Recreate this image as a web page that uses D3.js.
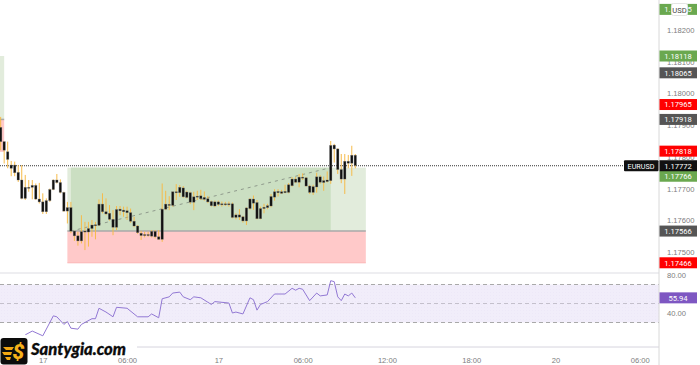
<!DOCTYPE html>
<html>
<head>
<meta charset="utf-8">
<script src="https://cdn.jsdelivr.net/npm/d3@7"></script>
<style>
  html, body { margin: 0; padding: 0; background: #fff; }
  svg { display: block; font-family: Roboto, sans-serif; }
</style>
</head>
<body>
<div id="chart"></div>
<script>
// Candle bodies and wicks (15 min bars)
const bodyTop = [1.17893,1.17848,1.17816,1.17774,1.17774,1.17751,1.17727,1.17704,1.17704,1.17710,1.17710,1.17667,1.17658,1.17662,1.17697,1.17727,1.17727,1.17719,1.17688,1.17640,1.17640,1.17566,1.17551,1.17564,1.17566,1.17574,1.17585,1.17586,1.17651,1.17651,1.17627,1.17622,1.17603,1.17634,1.17635,1.17632,1.17630,1.17624,1.17597,1.17582,1.17559,1.17555,1.17555,1.17565,1.17565,1.17548,1.17635,1.17651,1.17650,1.17690,1.17690,1.17704,1.17702,1.17689,1.17687,1.17674,1.17676,1.17677,1.17672,1.17668,1.17659,1.17658,1.17658,1.17652,1.17652,1.17652,1.17652,1.17617,1.17617,1.17611,1.17639,1.17667,1.17667,1.17656,1.17637,1.17641,1.17646,1.17675,1.17690,1.17691,1.17690,1.17691,1.17712,1.17730,1.17730,1.17736,1.17736,1.17734,1.17708,1.17706,1.17737,1.17737,1.17725,1.17727,1.17836,1.17837,1.17825,1.17760,1.17786,1.17786,1.17805,1.17805];
const bodyBottom = [1.17848,1.17821,1.17792,1.17764,1.17750,1.17727,1.17669,1.17669,1.17702,1.17704,1.17667,1.17658,1.17627,1.17627,1.17662,1.17697,1.17719,1.17688,1.17629,1.17629,1.17566,1.17551,1.17535,1.17535,1.17563,1.17563,1.17574,1.17584,1.17584,1.17627,1.17620,1.17603,1.17578,1.17578,1.17630,1.17627,1.17624,1.17597,1.17582,1.17561,1.17552,1.17552,1.17552,1.17550,1.17548,1.17540,1.17540,1.17635,1.17647,1.17647,1.17687,1.17687,1.17674,1.17672,1.17657,1.17657,1.17673,1.17668,1.17666,1.17658,1.17646,1.17645,1.17650,1.17649,1.17649,1.17649,1.17609,1.17609,1.17610,1.17598,1.17598,1.17637,1.17654,1.17605,1.17605,1.17637,1.17640,1.17645,1.17673,1.17687,1.17685,1.17687,1.17688,1.17709,1.17720,1.17720,1.17733,1.17708,1.17688,1.17688,1.17705,1.17720,1.17719,1.17722,1.17725,1.17825,1.17760,1.17730,1.17730,1.17780,1.17780,1.17773];
const highs = [1.17926,1.17848,1.17848,1.17787,1.17785,1.17774,1.17774,1.17743,1.17727,1.17727,1.17716,1.17718,1.17685,1.17669,1.17700,1.17729,1.17746,1.17729,1.17690,1.17658,1.17658,1.17567,1.17564,1.17616,1.17595,1.17595,1.17601,1.17595,1.17666,1.17685,1.17669,1.17648,1.17632,1.17645,1.17645,1.17643,1.17643,1.17637,1.17611,1.17585,1.17567,1.17564,1.17564,1.17569,1.17569,1.17569,1.17716,1.17693,1.17676,1.17690,1.17714,1.17711,1.17708,1.17693,1.17690,1.17690,1.17693,1.17696,1.17691,1.17677,1.17662,1.17662,1.17662,1.17659,1.17658,1.17659,1.17656,1.17622,1.17635,1.17614,1.17641,1.17670,1.17678,1.17664,1.17643,1.17652,1.17652,1.17683,1.17698,1.17698,1.17696,1.17712,1.17717,1.17736,1.17736,1.17746,1.17748,1.17736,1.17712,1.17712,1.17750,1.17742,1.17738,1.17754,1.17850,1.17841,1.17827,1.17809,1.17809,1.17806,1.17835,1.17809];
const lows = [1.17821,1.17779,1.17764,1.17739,1.17739,1.17721,1.17666,1.17664,1.17690,1.17666,1.17664,1.17653,1.17620,1.17620,1.17658,1.17695,1.17716,1.17685,1.17627,1.17590,1.17559,1.17535,1.17520,1.17527,1.17506,1.17517,1.17548,1.17540,1.17582,1.17622,1.17616,1.17599,1.17553,1.17569,1.17616,1.17611,1.17601,1.17592,1.17578,1.17557,1.17538,1.17546,1.17548,1.17546,1.17543,1.17538,1.17532,1.17632,1.17632,1.17643,1.17664,1.17674,1.17671,1.17669,1.17651,1.17632,1.17664,1.17664,1.17662,1.17654,1.17643,1.17641,1.17645,1.17643,1.17645,1.17643,1.17606,1.17603,1.17601,1.17593,1.17585,1.17633,1.17633,1.17603,1.17603,1.17622,1.17635,1.17641,1.17662,1.17675,1.17683,1.17685,1.17685,1.17706,1.17717,1.17704,1.17727,1.17706,1.17683,1.17680,1.17687,1.17715,1.17693,1.17719,1.17715,1.17782,1.17746,1.17717,1.17683,1.17764,1.17740,1.17764];

// RSI vertices: bar index and value
const rsiBars = [7,9,12,15,16,18,19,20,22,23,26,27,28,30,32,33,36,39,42,43,45,46,48,49,51,52,54,55,57,60,61,65,66,67,69,71,72,73,74,76,78,81,83,84,85,86,88,90,91,93,94,95,96,97,98,99,100,101];
const rsiValues = [17,21,16,37,36,28,31,24,23,28,34,34,45,41,36,46,45,36,36,39,35,55,57,61,62,57,54,57,56,49,52,50.5,40,41,39,56,54,43,49,52,60,60,66,64,66,65,53,61,58,59,74,73,57,53,60,58,61,56];
const rsiBands = [70, 50, 30];
const rsiTicks = [80, 40];
const rsiLast = 55.94;

// Axis ticks
const priceTicks = [1.182, 1.181, 1.18, 1.179, 1.178, 1.177, 1.176, 1.175];
const timeTicks = [12, 36, 62, 86, 110, 134, 158, 182];
const timeLabels = ["17", "06:00", "17", "06:00", "12:00", "18:00", "20", "06:00"];

// Long position tools: entry / target / stop and bars
const zoneEntry = [1.17918, 1.17566];
const zoneTarget = [1.18118, 1.17766];
const zoneStop = [1.17818, 1.17466];
const zoneStart = [-0.2, 19];
const zoneOpen = [null, 20];
const zoneClose = [null, 94];
const zoneEnd = [1, 104];

// Price tags on the right axis
const targetTags = [1.18265, 1.18118, 1.17766];
const entryTags = [1.18065, 1.17918, 1.17566];
const stopTags = [1.17965, 1.17818, 1.17466];
const lastPrice = 1.17772;
const symbol = "EURUSD";
const currency = "USD";

const width = 700, height = 365;
const axisX = 659;

const svg = d3.select("#chart").append("svg")
    .attr("width", width)
    .attr("height", height);

const x = d3.scaleLinear().domain([0, 101]).range([0.67, 355.3]);
const y = d3.scaleLinear().domain([1.182, 1.175]).range([30, 252]);
const rsiY = d3.scaleLinear().domain([80, 40]).range([275, 313]);

// Dotted fill for the RSI band
const pattern = svg.append("defs").append("pattern")
    .attr("id", "band-dots")
    .attr("width", 3)
    .attr("height", 3)
    .attr("patternUnits", "userSpaceOnUse");
pattern.append("rect").attr("width", 3).attr("height", 3).attr("fill", "#f1edfa");
pattern.append("circle").attr("cx", 1.5).attr("cy", 1.5).attr("r", 0.4).attr("fill", "#e9e2f6");

const main = svg.append("g");

// Position zones
zoneEntry.forEach((entry, i) => {
    const x0 = x(zoneStart[i]), x1 = x(zoneEnd[i]);
    main.append("rect")
        .attr("x", x0).attr("width", x1 - x0)
        .attr("y", y(zoneTarget[i])).attr("height", y(entry) - y(zoneTarget[i]))
        .attr("fill", "#e2ecdc");
    if (zoneOpen[i] !== null) {
        main.append("rect")
            .attr("x", x(zoneOpen[i])).attr("width", x(zoneClose[i]) - x(zoneOpen[i]))
            .attr("y", y(zoneTarget[i])).attr("height", y(entry) - y(zoneTarget[i]))
            .attr("fill", "#cbdfc2");
    }
    main.append("rect")
        .attr("x", x0).attr("width", x1 - x0)
        .attr("y", y(entry)).attr("height", y(zoneStop[i]) - y(entry))
        .attr("fill", "#ffc9c9");
    main.append("line")
        .attr("x1", x0).attr("x2", x1)
        .attr("y1", y(zoneStop[i])).attr("y2", y(zoneStop[i]))
        .attr("stroke", "#fbb5b5");
    main.append("line")
        .attr("x1", x0).attr("x2", x1)
        .attr("y1", y(entry)).attr("y2", y(entry))
        .attr("stroke", "#a9a9a9")
        .attr("stroke-width", 1.5);
    if (zoneOpen[i] !== null) {
        main.append("line")
            .attr("x1", x(zoneOpen[i])).attr("x2", x(zoneClose[i]))
            .attr("y1", y(entry)).attr("y2", y(zoneTarget[i]))
            .attr("stroke", "#8f9a8c")
            .attr("stroke-dasharray", "3 4");
    }
});

// Last price line
main.append("line")
    .attr("x1", 0).attr("x2", 624)
    .attr("y1", y(lastPrice)).attr("y2", y(lastPrice))
    .attr("stroke", "#333")
    .attr("stroke-dasharray", "1 1");

// Candles
main.selectAll(".wick")
    .data(highs)
    .join("line")
    .attr("class", "wick")
    .attr("x1", (d, i) => x(i)).attr("x2", (d, i) => x(i))
    .attr("y1", d => y(d))
    .attr("y2", (d, i) => y(lows[i]))
    .attr("stroke", "#f6bb4a")
    .attr("stroke-width", 1);

main.selectAll(".body")
    .data(bodyTop)
    .join("rect")
    .attr("class", "body")
    .attr("x", (d, i) => x(i) - 1.2)
    .attr("width", 2.4)
    .attr("y", d => y(d))
    .attr("height", (d, i) => Math.max(1, y(bodyBottom[i]) - y(d)))
    .attr("fill", "#111")
    .attr("stroke", "#777")
    .attr("stroke-opacity", 0.5)
    .attr("stroke-width", 0.6);

// RSI pane
svg.append("rect")
    .attr("x", 0).attr("width", axisX)
    .attr("y", rsiY(rsiBands[0])).attr("height", rsiY(rsiBands[2]) - rsiY(rsiBands[0]))
    .attr("fill", "url(#band-dots)");

svg.selectAll(".rsi-band")
    .data(rsiBands)
    .join("line")
    .attr("class", "rsi-band")
    .attr("x1", 0).attr("x2", axisX)
    .attr("y1", d => rsiY(d)).attr("y2", d => rsiY(d))
    .attr("stroke", (d, i) => i === 1 ? "#c4c0cc" : "#a9a9a9")
    .attr("stroke-dasharray", "4 3");

const rsiLine = d3.line()
    .x(d => x(d[0]))
    .y(d => rsiY(d[1]));

svg.append("path")
    .datum(rsiBars.map((b, i) => [b, rsiValues[i]]))
    .attr("d", rsiLine)
    .attr("fill", "none")
    .attr("stroke", "#9278d4")
    .attr("stroke-width", 1);

// Frame lines
svg.append("line")
    .attr("x1", 0).attr("x2", axisX)
    .attr("y1", 273).attr("y2", 273)
    .attr("stroke", "#e8e8ec")
    .attr("stroke-width", 1.5);
svg.append("line")
    .attr("x1", 0).attr("x2", axisX)
    .attr("y1", 347).attr("y2", 347)
    .attr("stroke", "#d6d4de");
svg.append("line")
    .attr("x1", axisX).attr("x2", axisX)
    .attr("y1", 0).attr("y2", height)
    .attr("stroke", "#d8d8d8");

// Logo knocks out what is behind it
svg.append("rect").attr("x", 0).attr("y", 339).attr("width", 137).attr("height", 19).attr("fill", "#fff");
svg.append("rect").attr("x", 0).attr("y", 335).attr("width", 31).attr("height", 30).attr("fill", "#fff");

// Axes
const styleAxis = g => {
    g.select(".domain").remove();
    g.selectAll("text").attr("fill", "#7d7d7d").attr("font-size", "7.6px");
};

svg.append("g")
    .attr("transform", `translate(${axisX},0)`)
    .call(d3.axisRight(y).tickValues(priceTicks).tickSize(0).tickPadding(8).tickFormat(d3.format(".5f")))
    .call(styleAxis);

svg.append("g")
    .attr("transform", `translate(${axisX},0)`)
    .call(d3.axisRight(rsiY).tickValues(rsiTicks).tickSize(0).tickPadding(8).tickFormat(d3.format(".2f")))
    .call(styleAxis);

svg.append("g")
    .attr("transform", "translate(0,356)")
    .call(d3.axisBottom(x).tickValues(timeTicks).tickSize(0).tickPadding(2).tickFormat((d, i) => timeLabels[i]))
    .call(styleAxis);

// Price tags
const tag = (scale, value, fill, fmt, minY) => {
    const cy = Math.max(scale(value), minY || 0);
    svg.append("rect")
        .attr("x", axisX + 0.5).attr("y", cy - 5.5)
        .attr("width", 37.5).attr("height", 11)
        .attr("fill", fill);
    svg.append("text")
        .attr("x", axisX + 19).attr("y", cy + 2.8)
        .attr("text-anchor", "middle")
        .attr("fill", "#fff")
        .attr("font-size", "7.6px")
        .text(d3.format(fmt)(value));
};

targetTags.forEach(v => tag(y, v, "#6aa84f", ".5f", v === 1.17766 ? y(lastPrice) + 10.5 : 0));
entryTags.forEach(v => tag(y, v, "#555", ".5f"));
stopTags.forEach(v => tag(y, v, "#ff0000", ".5f"));
tag(y, lastPrice, "#111", ".5f");
tag(rsiY, rsiLast, "#7e57c2", ".2f");

// Symbol flag
svg.append("rect")
    .attr("x", 624).attr("y", y(lastPrice) - 5.5)
    .attr("width", 34.5).attr("height", 11)
    .attr("rx", 1)
    .attr("fill", "#111");
svg.append("text")
    .attr("x", 641).attr("y", y(lastPrice) + 2.8)
    .attr("text-anchor", "middle")
    .attr("fill", "#fff")
    .attr("font-size", "7.2px")
    .text(symbol);

// Currency button
svg.append("rect")
    .attr("x", 671.5).attr("y", 3.5)
    .attr("width", 16).attr("height", 12)
    .attr("rx", 2)
    .attr("fill", "#fff")
    .attr("stroke", "#e4e4e4");
svg.append("text")
    .attr("x", 679.5).attr("y", 12.5)
    .attr("text-anchor", "middle")
    .attr("fill", "#444")
    .attr("font-size", "7.6px")
    .text(currency);

// Logo
const logo = svg.append("g");
logo.append("rect")
    .attr("x", 0.5).attr("y", 338)
    .attr("width", 27).attr("height", 26.5)
    .attr("rx", 3)
    .attr("fill", "#0c0c0c");
logo.append("path")
    .attr("d", "M3 347h11l-2 3H6zM2 352h10l-1 3H4zM5 357h6l-1 3H7z")
    .attr("fill", "#f3a712");
logo.append("text")
    .attr("x", 18.5).attr("y", 359)
    .attr("text-anchor", "middle")
    .attr("fill", "#f7b21a")
    .attr("font-size", "21px")
    .attr("font-weight", 900)
    .attr("font-style", "italic")
    .text("$");
logo.append("text")
    .attr("x", 31).attr("y", 355)
    .attr("fill", "#0c0c0c")
    .attr("stroke", "#0c0c0c")
    .attr("stroke-width", 0.3)
    .attr("font-family", "Lato, sans-serif")
    .attr("font-size", "16.6px")
    .attr("font-weight", 900)
    .attr("font-style", "italic")
    .text("Santygia.com");
</script>
</body>
</html>
